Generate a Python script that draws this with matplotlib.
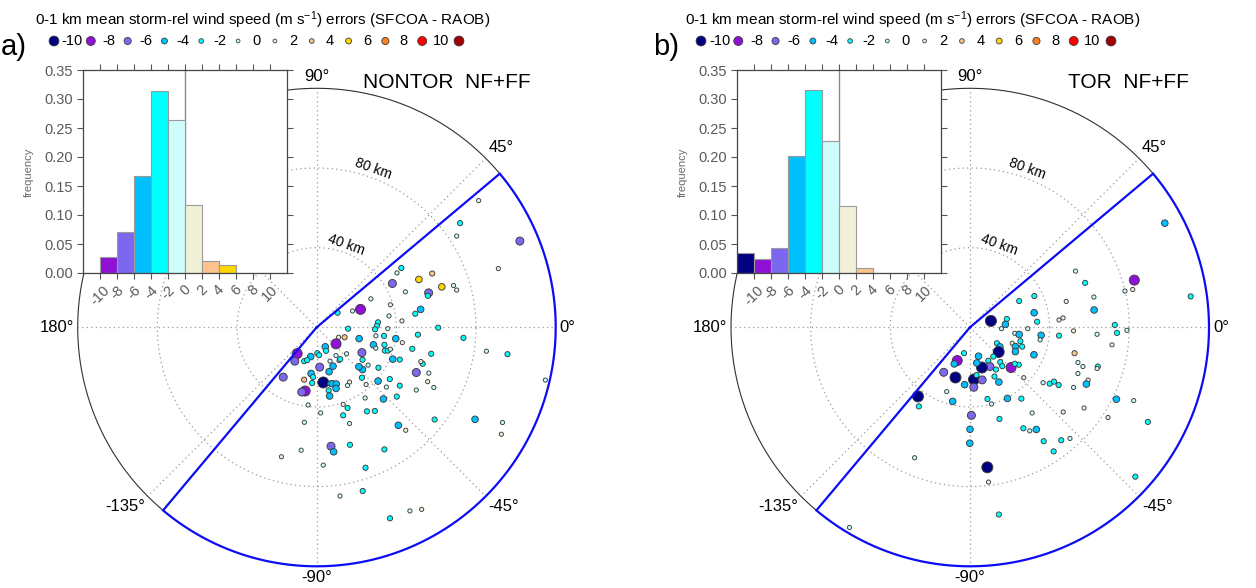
import numpy as np
import matplotlib
matplotlib.use("Agg")
import matplotlib.pyplot as plt

plt.rcParams['font.family'] = ['Liberation Sans', 'DejaVu Sans']
plt.rcParams['mathtext.fontset'] = 'custom'
plt.rcParams['mathtext.rm'] = 'Liberation Sans'
plt.rcParams['mathtext.default'] = 'regular'

# ---------------------------------------------------------------- classes
bin_edges = [-12, -10, -8, -6, -4, -2, 0, 2, 4, 6, 8, 10, 12]
legend_labels = ["-10", "-8", "-6", "-4", "-2", "0", "2", "4", "6", "8", "10"]
class_colors = ["#000080", "#9010d8", "#7b68ee", "#00bfff", "#00ffff", "#ccfcfc",
                "#f0f0d6", "#fcc48c", "#ffd700", "#ff8020", "#ff0000", "#a00000"]
class_diam_px = [11.0, 10.0, 8.0, 6.6, 5.2, 4.2, 4.2, 5.2, 6.6, 8.0, 10.0, 11.0]

# ---------------------------------------------------------------- histograms
hist_nontor = [0.0, 0.028, 0.070, 0.167, 0.313, 0.264, 0.118, 0.021, 0.014, 0.0, 0.0, 0.0]
hist_tor = [0.034, 0.025, 0.043, 0.202, 0.316, 0.228, 0.115, 0.008, 0.0, 0.0, 0.0, 0.0]

# ---------------------------------------------------------------- observations
# storm-relative position (km east, km north) and wind-speed error (m/s)
nontor_x = [72.0, 70.3, 102.0, 91.2, 42.5, 40.3, 58.0, 38.0, 51.3, 62.8, 68.7, 70.3, 56.2, 55.8,
            44.5, 27.2, 37.0, 22.0, 10.5, 18.0, 52.2, 49.5, 36.3, 42.8, 30.8, 30.2, 29.3, 35.7,
            61.0, 15.8, 50.8, 29.7, 33.8, 39.7, 21.3, 14.0, 11.0, 73.7, 28.5, 29.7, 34.0, 34.2,
            35.8, 37.0, 43.0, 48.0, 38.2, 9.7, 4.3, 4.7, 0.3, 1.2, -3.0, -6.3, -4.8, -9.8,
            -11.0, 15.0, 9.7, 11.2, 11.8, 22.7, 23.0, 23.0, 21.2, 25.8, 31.0, 41.7, 57.5, 53.2,
            52.3, 85.2, 95.8, 1.5, 6.2, 8.2, 6.7, -16.8, -2.8, -1.8, -6.3, -2.3, 3.3, 6.7,
            7.8, 9.8, 9.7, 6.0, 6.5, 16.5, 15.5, 22.7, 30.8, 36.7, 35.0, 41.7, 50.0, 56.3,
            55.7, 58.8, 50.0, 24.8, -5.8, -7.5, 33.5, 40.2, 24.3, -4.3, 2.0, 13.3, 15.5, 13.3,
            16.5, 25.2, 29.2, -6.2, 41.0, 44.7, 59.2, 79.5, 93.3, 92.7, 114.8, 16.7, 7.2, 8.5,
            -7.8, -17.7, 34.0, 3.3, 24.5, 23.1, 46.8, 52.7, 36.8, 11.7, 81.3]
nontor_y = [52.3, 45.8, 43.3, 29.5, 29.8, 27.3, 27.0, 22.0, 24.0, 20.3, 21.0, 18.7, 17.3, 15.8,
            17.8, 14.3, 11.3, 9.0, 7.3, 8.2, 9.0, 6.8, 5.7, 3.2, 2.5, 0.7, -1.0, -0.7,
            -0.2, -0.7, -3.7, -4.3, -4.3, -5.7, -5.7, -5.0, -5.0, -5.3, -8.8, -10.5, -8.8, -11.7,
            -11.7, -11.0, -7.7, -10.8, -16.0, -8.3, -9.8, -11.8, -13.0, -14.0, -14.7, -17.0, -16.5, -13.2,
            -17.0, -13.3, -14.2, -16.7, -16.0, -12.7, -16.3, -21.2, -19.8, -19.0, -20.3, -16.2, -13.3, -18.3,
            -17.2, -12.0, -13.5, -20.0, -22.3, -19.5, -17.0, -25.0, -23.2, -25.0, -26.3, -28.0, -27.7, -28.3,
            -28.3, -28.5, -30.7, -31.7, -34.5, -27.5, -29.2, -25.3, -27.0, -26.0, -30.0, -29.3, -22.7, -23.0,
            -27.3, -30.2, -31.5, -28.7, -32.0, -32.5, -36.0, -34.8, -35.5, -39.0, -43.0, -38.7, -40.5, -44.2,
            -48.3, -42.2, -42.0, -47.7, -49.2, -51.7, -46.3, -46.2, -47.8, -53.7, -26.5, -59.0, -59.7, -62.5,
            -61.7, -65.0, -61.3, -69.2, -70.5, -82.2, -92.2, -91.4, -95.9, -84.7, 63.6]
nontor_err = [-3, -1, -7, 1, -3, -1, 3, -7, 5, 5, -1, 1, -7, -3,
              -1, -1, 1, -9, -3, -1, -5, -3, -1, 1, -3, -3, -3, -1,
              -3, -3, -3, -1, -3, -5, -5, 3, 1, -3, -5, -1, -3, -3,
              -3, -1, 1, -3, -5, -9, -5, -3, -3, -3, -5, -3, -3, -9,
              -7, -1, -1, 1, -3, -7, -3, -5, -5, -1, -3, -3, -3, -3,
              1, -1, -3, -7, -5, -5, -1, -7, -5, -3, 3, -3, -11, -3,
              -5, -5, -5, -3, -5, 1, -1, -3, -5, -3, -1, -3, -7, -1,
              1, -1, -1, 1, -9, -7, -5, -3, -1, -1, -1, 1, -3, -3,
              -1, -3, -3, -1, -5, 1, -3, -5, -1, 1, -1, -3, -7, -5,
              -1, 1, -3, -1, -3, -3, -1, 1, -3, -1, -1]

tor_x = [97.8, 53.0, 57.8, 82.5, 77.8, 81.7, 110.8, 62.2, 24.7, 32.3, 48.3, 62.3, 32.2, 10.5,
         18.5, 17.8, 15.8, 33.7, 44.7, 46.7, 29.0, 35.7, 35.2, 44.7, 52.0, 63.8, 72.7, 73.8,
         78.8, 71.3, 22.5, 24.7, 21.2, 25.3, 22.8, 26.2, 22.8, 32.1, 52.5, 54.2, 56.7, 64.2,
         63.8, 54.2, 59.3, 58.4, 36.7, 40.0, 42.2, 44.5, 52.0, 27.0, 13.5, 15.0, 14.4, 11.7,
         15.2, 16.2, 20.6, 24.5, 22.5, 13.0, 12.3, 14.5, 9.2, 10.0, 6.0, 4.3, 3.4, -3.0,
         -6.4, -7.9, -13.2, -7.3, 2.0, 3.3, 6.1, 1.9, -2.7, -11.7, -26.1, -25.7, -8.7, 8.8,
         10.8, 18.8, 25.8, 31.2, 46.8, 57.3, 73.5, 82.2, 69.3, 89.3, 14.8, 26.8, 30.0, 33.3,
         37.0, 45.8, 50.2, 42.0, 0.7, 0.0, -0.1, -27.8, 8.7, 9.3, 14.5, 83.0, -60.5]
tor_y = [52.3, 28.2, 22.3, 23.7, 18.2, 19.0, 15.5, 15.2, 13.2, 15.7, 13.0, 8.7, 7.3, 3.2,
         4.2, 1.5, -0.7, 2.8, 3.7, 4.7, -0.7, -4.0, -6.3, -4.2, -1.8, -3.5, 1.2, -2.8,
         -1.5, -8.8, -3.0, -3.6, -8.0, -7.0, -9.7, -9.7, -12.2, -13.8, -13.0, -17.7, -19.7, -19.7,
         -20.7, -23.2, -26.5, -28.5, -27.8, -28.3, -27.3, -29.0, -30.2, -25.3, -8.0, -9.8, -12.4, -14.7,
         -17.5, -19.5, -20.2, -18.8, -18.3, -21.2, -24.7, -27.5, -16.8, -19.7, -20.2, -14.5, -17.9, -13.0,
         -16.7, -18.4, -22.6, -25.2, -26.2, -24.0, -26.4, -30.1, -28.8, -32.3, -34.7, -39.7, -37.2, -36.0,
         -38.5, -35.7, -35.8, -43.0, -42.5, -40.5, -36.1, -36.8, -45.3, -47.5, -46.0, -50.7, -52.0, -51.3,
         -57.2, -56.7, -55.8, -62.3, -44.2, -51.2, -58.2, -65.5, -70.3, -77.7, -94.0, -75.0, -100.5]
tor_err = [-5, -1, -3, -9, -1, 1, -3, -1, -3, -3, 1, -5, -5, -11,
           -3, -5, -1, -3, -1, 1, -1, -5, -1, -3, 1, -1, -3, -3,
           -1, 1, -1, -5, 1, -3, -5, -3, -5, -5, 3, -1, -1, -3,
           1, -1, 1, -5, -1, -3, -3, -3, -1, 1, -3, -5, -11, -3,
           -3, -3, -9, -3, -3, -3, -3, -5, -3, -7, -11, -5, -5, -3,
           -9, -5, -7, -11, -11, -3, -7, -7, -5, -1, -11, -3, -5, -3,
           -1, -5, -3, -1, 1, -1, -5, -1, 1, -3, -3, -3, -1, -5,
           -3, -3, -1, -3, -7, -5, -5, -1, -11, 1, -3, -3, -1]

# ---------------------------------------------------------------- figure
W, H = 1256, 588
fig = plt.figure(figsize=(W / 100, H / 100), dpi=100)
fig.patch.set_facecolor("white")

R_OUT = 120.0          # km, outer ring
PX_PER_KM = 1.9917
GRID_KW = dict(color="#9a9a9a", lw=0.9, ls=(0, (1, 2.6)), zorder=1)
marker_area = [(d * 0.72) ** 2 for d in class_diam_px]


def fx(px):
    return px / W


def fy(py):
    return 1 - py / H


def classify(errs):
    return np.digitize(errs, bin_edges[1:-1])


def draw_polar(ax, xs, ys, errs):
    ax.axis("off")
    th = np.linspace(0, 2 * np.pi, 721)
    for r in (40, 80):
        ax.plot(r * np.cos(th), r * np.sin(th), **GRID_KW)
    for deg in range(0, 360, 45):
        a = np.radians(deg)
        ax.plot([0, R_OUT * np.cos(a)], [0, R_OUT * np.sin(a)], **GRID_KW)
    # thin outer ring on the excluded side
    t = np.radians(np.linspace(40, 230, 300))
    ax.plot(R_OUT * np.cos(t), R_OUT * np.sin(t), color="#303030", lw=0.8, zorder=2)

    cls = classify(np.asarray(errs))
    cols = [class_colors[k] for k in cls]
    sizes = [marker_area[k] for k in cls]
    ax.scatter(xs, ys, s=sizes, c=cols, edgecolors="#3a3a3a", linewidths=0.65, zorder=3)

    # wedge of accepted soundings
    t = np.radians(np.linspace(40, -130, 300))
    bx = np.concatenate([[0], R_OUT * np.cos(t), [0]])
    by = np.concatenate([[0], R_OUT * np.sin(t), [0]])
    ax.plot(bx, by, color="#0c0cf5", lw=1.6, zorder=4, solid_joinstyle="miter")

    # ring labels
    for r_lab, txt in ((43.8, "40 km"), (84.5, "80 km")):
        a = np.radians(70.3)
        ax.text(r_lab * np.cos(a), r_lab * np.sin(a), txt, rotation=-20,
                ha="center", va="center", fontsize=10, zorder=5)

    # azimuth labels
    for deg, txt in ((90, "90°"), (45, "45°"), (0, "0°"), (-45, "-45°"), (-90, "-90°"),
                     (-135, "-135°"), (180, "180°"), (135, "135°")):
        a = np.radians(deg)
        c, s = np.cos(a), np.sin(a)
        ha = "left" if c > 0.3 else ("right" if c < -0.3 else "center")
        va = "bottom" if s > 0.3 else ("top" if s < -0.3 else "center")
        ax.text(122 * c, 122 * s, txt, ha=ha, va=va, fontsize=12, zorder=5)


def draw_hist(rect, heights, ylab_px):
    ax = fig.add_axes(rect)
    ax.set_facecolor("white")
    ax.axvline(0, color="#8a8a8a", lw=1.0, zorder=1)
    ax.bar(bin_edges[:-1], heights, width=2, align="edge", color=class_colors,
           edgecolor="#9a9a9a", linewidth=0.8, zorder=2)
    ax.set_xlim(-12, 12)
    ax.set_ylim(0, 0.35)
    ax.set_yticks(np.arange(0, 0.351, 0.05))
    ax.set_yticklabels([f"{v:.2f}" for v in np.arange(0, 0.351, 0.05)])
    ax.set_xticks(range(-10, 11, 2))
    ax.set_xticklabels([str(v) for v in range(-10, 11, 2)], rotation=45)
    ax.tick_params(which="both", direction="out", top=True, right=True, length=4,
                   width=0.8, color="#555555", labelcolor="#5a5a5a", labelsize=10.5, pad=3)
    for sp in ax.spines.values():
        sp.set_color("#454545")
        sp.set_linewidth(0.9)
    fig.text(fx(ylab_px), fy(172), "frequency", rotation=90, ha="center", va="center",
             fontsize=8, color="#6a6a6a")
    return ax


def draw_legend(x_first, x_last, title_cx, y_row=41, y_title=20):
    step = (x_last - x_first) / 11
    lax = fig.add_axes([fx(x_first - step / 2), fy(y_row + 11), fx(12 * step), 22 / H])
    lax.axis("off")
    lax.set_xlim(-0.5, 11.5)
    lax.set_ylim(-1, 1)
    lax.scatter(range(12), [0] * 12, s=[a * 0.8 for a in marker_area], c=class_colors,
                edgecolors="#3a3a3a", linewidths=0.6)
    for k, lab in enumerate(legend_labels):
        lax.text(k + 0.5, 0, lab, ha="center", va="center", fontsize=10.5)
    fig.text(fx(title_cx), fy(y_title),
             "0-1 km mean storm-rel wind speed (m s$^{-1}$) errors (SFCOA - RAOB)",
             ha="center", va="center", fontsize=11)


# panel a: non-tornadic soundings
cx_a, cy = 316.7, 327.3
ax_a = fig.add_axes([0, 0, 0.5, 1])
ax_a.set_xlim(-cx_a / PX_PER_KM, (628 - cx_a) / PX_PER_KM)
ax_a.set_ylim((cy - H) / PX_PER_KM, cy / PX_PER_KM)
draw_polar(ax_a, nontor_x, nontor_y, nontor_err)

# panel b: tornadic soundings
cx_b = 970.0
ax_b = fig.add_axes([0.5, 0, 0.5, 1])
ax_b.set_xlim((628 - cx_b) / PX_PER_KM, (W - cx_b) / PX_PER_KM)
ax_b.set_ylim((cy - H) / PX_PER_KM, cy / PX_PER_KM)
draw_polar(ax_b, tor_x, tor_y, tor_err)

fig.text(fx(446.7), fy(83), "NONTOR  NF+FF", ha="center", va="center", fontsize=15)
fig.text(fx(1128), fy(83), "TOR  NF+FF", ha="center", va="center", fontsize=15)

draw_hist([fx(83), fy(273), 204 / W, 203 / H], hist_nontor, 29)
draw_hist([fx(737), fy(273), 204 / W, 203 / H], hist_tor, 683)

draw_legend(54, 459, 262.5)
draw_legend(701, 1111, 912.5)

fig.text(fx(14), fy(47), "a)", ha="center", va="center", fontsize=21)
fig.text(fx(666), fy(47), "b)", ha="center", va="center", fontsize=21)

fig.savefig("out.png", dpi=100, facecolor="white")
